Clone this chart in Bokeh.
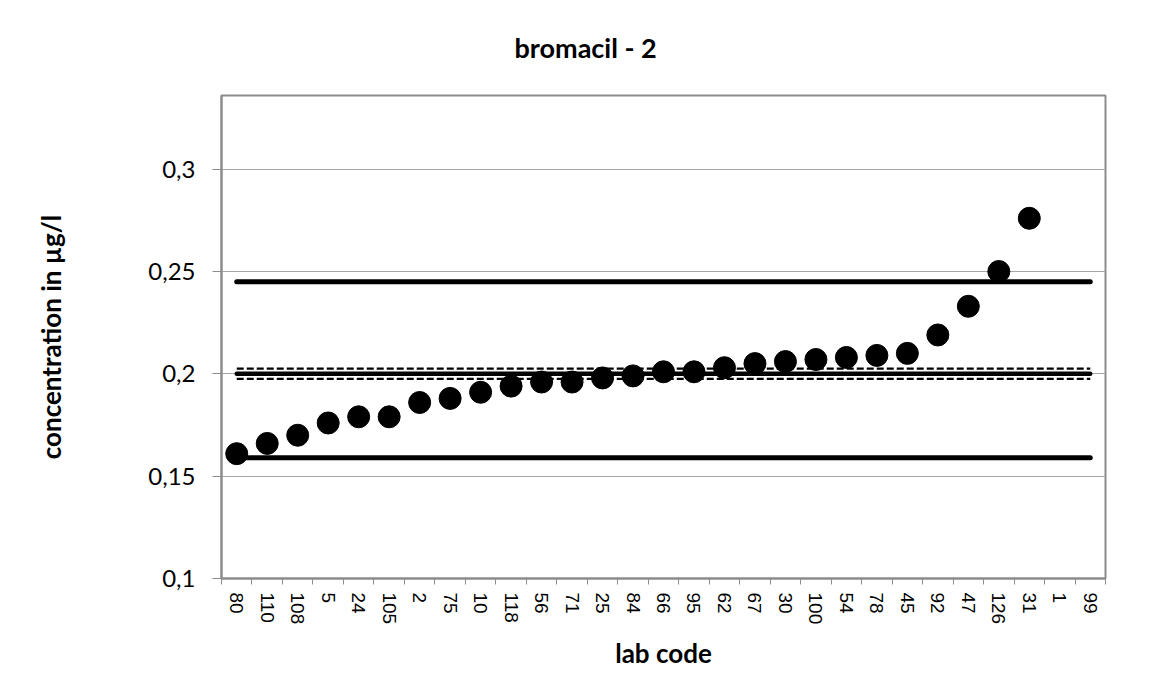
from bokeh.plotting import figure
from bokeh.models import (Range1d, LinearAxis, FixedTicker, CustomJSTickFormatter, Title,
                          ColumnDataSource)
from bokeh.embed import file_html
from bokeh.resources import INLINE

# ---- data ----
lab_codes = ["80", "110", "108", "5", "24", "105", "2", "75", "10", "118", "56", "71", "25", "84",
             "66", "95", "62", "67", "30", "100", "54", "78", "45", "92", "47", "126", "31", "1", "99"]
concentration = [0.161, 0.166, 0.170, 0.176, 0.179, 0.179, 0.186, 0.188, 0.191, 0.194, 0.196, 0.196,
                 0.198, 0.199, 0.201, 0.201, 0.203, 0.205, 0.206, 0.207, 0.208, 0.209, 0.210, 0.219,
                 0.233, 0.250, 0.276, float("nan"), float("nan")]
assigned_value = 0.200
tolerance_upper = 0.245
tolerance_lower = 0.159
uncertainty_upper = 0.2025
uncertainty_lower = 0.1975
y_ticks = [0.1, 0.15, 0.2, 0.25, 0.3]

GRAY = "#8c8c8c"
FONT = "Lato"

n = len(lab_codes)
centers = [i + 0.5 for i in range(n)]          # category slots on a numeric axis
bounds = list(range(n + 1))                    # category boundaries (Excel-style ticks)
src = ColumnDataSource(dict(x=centers, y=concentration, lab=lab_codes))

p = figure(width=1139, height=683, output_backend="svg", toolbar_location=None,
           x_range=Range1d(0, n), y_range=Range1d(0.1, 0.336),
           x_axis_location=None, y_axis_location=None,
           min_border_left=221, min_border_right=34, min_border_top=94, min_border_bottom=105)
p.background_fill_color = "white"
p.border_fill_color = "white"
p.outline_line_color = GRAY
p.outline_line_width = 2

# title
t = Title(text="bromacil - 2", align="left", offset=293, standoff=60, vertical_align="top",
          text_font=FONT, text_font_size="27px", text_font_style="bold", text_color="black")
p.add_layout(t, "above")

# y axis
yax = LinearAxis(ticker=FixedTicker(ticks=y_ticks),
                 formatter=CustomJSTickFormatter(code="return (Math.round(tick*100)/100).toString().replace('.', ',');"),
                 axis_label="concentration in µg/l")
yax.axis_line_color = GRAY
yax.axis_line_width = 2
yax.major_tick_line_color = GRAY
yax.major_tick_out = 9
yax.major_tick_in = 0
yax.minor_tick_line_color = None
yax.major_label_standoff = 17
yax.major_label_text_font = FONT
yax.major_label_text_font_size = "24px"
yax.major_label_text_color = "black"
yax.axis_label_text_font = FONT
yax.axis_label_text_font_size = "26px"
yax.axis_label_text_font_style = "bold"
yax.axis_label_text_color = "black"
yax.axis_label_standoff = 78
p.add_layout(yax, "left")

# x axis: labels at slot centres, tick marks at slot boundaries
xax = LinearAxis(ticker=FixedTicker(ticks=centers, minor_ticks=bounds),
                 formatter=CustomJSTickFormatter(args=dict(labels=lab_codes),
                                                 code="return labels[Math.floor(tick)];"),
                 axis_label="lab code")
xax.axis_line_color = GRAY
xax.axis_line_width = 2
xax.major_tick_line_color = None
xax.minor_tick_line_color = GRAY
xax.minor_tick_out = 6
xax.minor_tick_in = 0
xax.major_tick_out = 6
xax.major_tick_in = 0
xax.major_label_orientation = "vertical"
xax.major_label_standoff = 8
xax.major_label_text_font = "Arial"
xax.major_label_text_font_size = "19px"
xax.major_label_text_color = "black"
xax.axis_label_text_font = FONT
xax.axis_label_text_font_size = "26px"
xax.axis_label_text_font_style = "bold"
xax.axis_label_text_color = "black"
xax.axis_label_standoff = 10
p.add_layout(xax, "below")

# grid
p.ygrid.ticker = FixedTicker(ticks=y_ticks)
p.ygrid.grid_line_color = "#a6a6a6"
p.ygrid.grid_line_width = 1
p.xgrid.grid_line_color = None

# reference lines
x_span = [centers[0], centers[-1]]
p.line(x=x_span, y=[tolerance_upper] * 2, line_color="black", line_width=5, line_cap="round")
p.line(x=x_span, y=[tolerance_lower] * 2, line_color="black", line_width=5, line_cap="round")
p.line(x=x_span, y=[assigned_value] * 2, line_color="black", line_width=4.5, line_cap="round")
p.line(x=x_span, y=[uncertainty_upper] * 2, line_color="black", line_width=2.2, line_dash="7 3")
p.line(x=x_span, y=[uncertainty_lower] * 2, line_color="black", line_width=2.2, line_dash="7 3")

# data points
p.scatter(x="x", y="y", source=src, size=22, marker="circle",
          fill_color="black", line_color="black")

open("out.html", "w").write(file_html(p, INLINE))
